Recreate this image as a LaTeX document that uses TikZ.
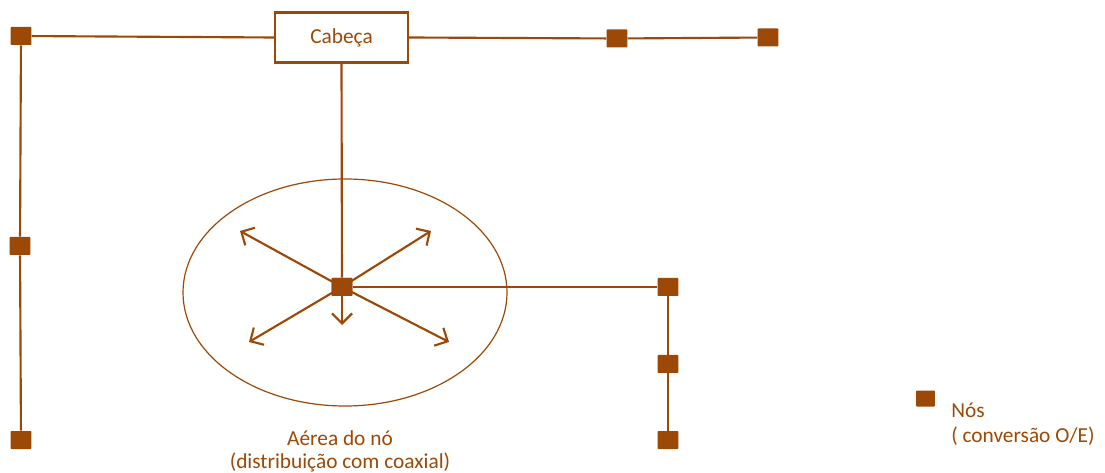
\documentclass[tikz,border=0pt]{standalone}
\usepackage{fontspec}
\setmainfont{Carlito}
\usetikzlibrary{arrows.meta}
\definecolor{brn}{RGB}{156,72,6}
\begin{document}
\begin{tikzpicture}[x=0.75pt,y=-0.75pt,
  nd/.style={rectangle,fill=brn,draw=none,minimum width=15.5pt,minimum height=13.5pt,inner sep=0pt,rounded corners=0.6pt},
  ln/.style={draw=brn,line width=1.6pt},
  arr/.style={draw=brn,line width=1.6pt,-{Straight Barb[length=7.5pt,width=15pt,line width=1.6pt]}},
  lbl/.style={text=brn,font=\fontsize{16}{17.5}\selectfont}]
\useasboundingbox (0,0) rectangle (1105,473);
\node[draw=brn,line width=1.6pt,minimum width=100pt,minimum height=37.5pt,inner sep=0pt,lbl] (head) at (341.5,37.5) {Cabeça};
\node[nd] (n1) at (21,36) {};
\node[nd] (n2) at (20,246) {};
\node[nd] (n3) at (21,440) {};
\node[nd] (n4) at (617,38.5) {};
\node[nd] (n5) at (768,37.5) {};
\node[nd] (c) at (342,287) {};
\node[nd] (r1) at (668,287) {};
\node[nd] (r2) at (668,364) {};
\node[nd] (r3) at (668,440) {};
\draw[draw=brn,line width=0.9pt] (345,292.5) ellipse [x radius=162, y radius=113.5];
\coordinate (t1) at (240,231);
\coordinate (t2) at (431,231);
\coordinate (t3) at (249,342);
\coordinate (t4) at (449,342);
\coordinate (t5) at (342,325);
\draw[ln] (n1) -- (head.west);
\draw[ln] (head.east) -- (n4) -- (n5);
\draw[ln] (n1) -- (n2) -- (n3);
\draw[ln] (head.south) -- (c);
\draw[ln] (c) -- (r1) -- (r2) -- (r3);
\foreach \t in {t1,t2,t3,t4,t5} \draw[arr] (c.center) -- (\t);
\node[nd] at (342,287) {};
\node[nd,minimum width=14pt,minimum height=12pt] (leg) at (925.5,398.5) {};
\node[lbl,align=left,anchor=west,inner sep=0pt,font=\fontsize{16}{18.5}\selectfont] (legt) at (951,424.5) {Nós\\( conversão O/E)};
\node[lbl,align=center,inner sep=0pt] (area) at (340,451.5) {Aérea do nó\\(distribuição com coaxial)};
\end{tikzpicture}
\end{document}
